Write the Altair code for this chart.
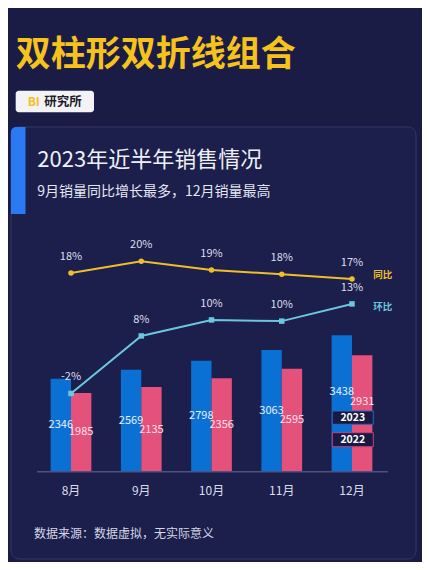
import altair as alt
import pandas as pd

# ---------------- data ----------------
months = ["8月", "9月", "10月", "11月", "12月"]
sales_2023 = [2346, 2569, 2798, 3063, 3438]
sales_2022 = [1985, 2135, 2356, 2595, 2931]
yoy_pct = [18.2, 20.2, 18.7, 18.0, 17.2]     # 同比
mom_pct = [-2.1, 7.6, 10.3, 10.1, 13.0]      # 环比
series_names = ["2023", "2022"]

title_text = "双柱形双折线组合"
badge_bi = "BI"
badge_name = "研究所"
card_title = "2023年近半年销售情况"
card_subtitle = "9月销量同比增长最多，12月销量最高"
footer_text = "数据来源：数据虚拟，无实际意义"

# ---------------- style ----------------
FONT = "Noto Sans CJK SC"
BG = "#1a1c46"
CARD = "#1c1e4b"
CARD_STROKE = "#34376a"
BLUE = "#0b70d3"
PINK = "#e4517a"
YEL = "#efbf2a"
CYAN = "#6cc6de"
TXT = "#dcdeee"

bars_df = pd.DataFrame({
    "month": months * 2,
    "series": [series_names[0]] * len(months) + [series_names[1]] * len(months),
    "value": sales_2023 + sales_2022,
})
yoy_df = pd.DataFrame({"month": months, "pct": yoy_pct})
mom_df = pd.DataFrame({"month": months, "pct": mom_pct})
one = pd.DataFrame({"k": [0]})

x_scale = alt.Scale(domain=months, range=[27.875, 379.125], paddingInner=0.42, paddingOuter=0.21)
X = alt.X("month:N", scale=x_scale, axis=None, sort=months)
XOFF = alt.XOffset("series:N", scale=alt.Scale(domain=series_names, paddingInner=0, paddingOuter=0))
ybar_scale = alt.Scale(domain=[0, 6000], range=[464, 225.2], nice=False, zero=True)
yline_scale = alt.Scale(domain=[0, 20], range=[373, 254.4], nice=False, zero=False)


def rect(x, x2, y, y2, **kw):
    return alt.Chart(one).mark_rect(**kw).encode(
        x=alt.value(x), x2=alt.value(x2), y=alt.value(y), y2=alt.value(y2))


def label(txt, x, y, **kw):
    return alt.Chart(one).mark_text(font=FONT, baseline="middle", **kw).encode(
        x=alt.value(x), y=alt.value(y), text=alt.value(txt))


card = rect(3, 408, 119, 551, fill=CARD, stroke=CARD_STROKE, strokeWidth=1, cornerRadius=8)
accent = rect(3, 17.5, 119, 206, fill="#2a7af3", cornerRadiusTopLeft=5)
badge = rect(7.7, 86, 82.7, 104.3, fill="#f3f3f6", cornerRadius=3)

title = label(title_text, 7.7, 47, fontSize=35, fontWeight="bold", color="#f6c21c", align="left")
bi = label(badge_bi, 19.7, 93.7, fontSize=12, fontWeight="bold", color="#f3c01e", align="left")
bname = label(badge_name, 36.3, 93.7, fontSize=12.5, fontWeight="bold", color="#1c1c2c", align="left")
ctitle = label(card_title, 29.3, 152, fontSize=22, color="#eef0f8", align="left")
csub = label(card_subtitle, 29.3, 184, fontSize=14, color="#e4e6f2", align="left")
footer = label(footer_text, 26, 526, fontSize=12, color="#d5d6e6", align="left")

bars = alt.Chart(bars_df).mark_bar().encode(
    x=X, xOffset=XOFF,
    y=alt.Y("value:Q", scale=ybar_scale, axis=None),
    color=alt.Color("series:N", scale=alt.Scale(domain=series_names, range=[BLUE, PINK]), legend=None),
)

label_color = alt.condition(alt.datum.series == series_names[0], alt.value("#e8f0ff"), alt.value("#ffe2ec"))

bar_labels = alt.Chart(bars_df).transform_filter(
    alt.datum.month != months[-1]
).transform_calculate(mid="datum.value / 2").mark_text(
    font=FONT, fontSize=11, baseline="middle"
).encode(
    x=X, xOffset=XOFF,
    y=alt.Y("mid:Q", scale=ybar_scale, axis=None),
    text=alt.Text("value:Q", format="d"),
    color=label_color,
)

bar_labels_last = alt.Chart(bars_df).transform_filter(
    alt.datum.month == months[-1]
).transform_calculate(mid="datum.value / 2").mark_text(
    font=FONT, fontSize=11, baseline="middle", dy=-12
).encode(
    x=X, xOffset=XOFF,
    y=alt.Y("mid:Q", scale=ybar_scale, axis=None),
    text=alt.Text("value:Q", format="d"),
    color=label_color,
)

axis_line = alt.Chart(one).mark_rule(color="#4d5180", strokeWidth=1.5).encode(
    x=alt.value(29), x2=alt.value(380), y=alt.value(463.7))

x_labels = alt.Chart(pd.DataFrame({"month": months})).mark_text(
    font=FONT, fontSize=12, color=TXT, baseline="middle"
).encode(x=X, y=alt.value(483), text="month:N")


def line_layers(df, color, shape):
    base = alt.Chart(df).encode(x=X, y=alt.Y("pct:Q", scale=yline_scale, axis=None))
    ln = base.mark_line(color=color, strokeWidth=2)
    pt = base.mark_point(color=color, filled=True, opacity=1, shape=shape, size=30)
    tx = base.transform_calculate(lab="round(datum.pct) + '%'").mark_text(
        font=FONT, fontSize=11, color=TXT, baseline="middle", dy=-16
    ).encode(text="lab:N")
    return [ln, pt, tx]


yoy_layers = line_layers(yoy_df, YEL, "circle")
mom_layers = line_layers(mom_df, CYAN, "square")

leg_yoy = label("同比", 365.3, 267, fontSize=9.5, fontWeight="bold", color=YEL, align="left")
leg_mom = label("环比", 365.3, 298.7, fontSize=9.5, fontWeight="bold", color=CYAN, align="left")

box23 = rect(324.3, 365.3, 403, 416.3, fill="#191a44", stroke="#2d63bd", strokeWidth=1)
box22 = rect(324.3, 365.3, 424.7, 438.7, fill="#191a44", stroke="#c4437a", strokeWidth=1)
t23 = label(series_names[0], 344.8, 409.7, fontSize=10.5, fontWeight="bold", color="#ffffff", align="center")
t22 = label(series_names[1], 344.8, 431.7, fontSize=10.5, fontWeight="bold", color="#ffffff", align="center")

chart = alt.layer(
    card, accent, badge, title, bi, bname, ctitle, csub, footer,
    bars, bar_labels, bar_labels_last, axis_line, x_labels,
    *yoy_layers, *mom_layers, leg_yoy, leg_mom,
    box23, box22, t23, t22,
).resolve_scale(
    y="independent"
).properties(
    width=414, height=554, padding=0,
    autosize=alt.AutoSizeParams(type="none"),
).configure(
    background=BG,
).configure_view(stroke=None)

chart.save("out.html", embed_options={"renderer": "svg", "actions": False})
